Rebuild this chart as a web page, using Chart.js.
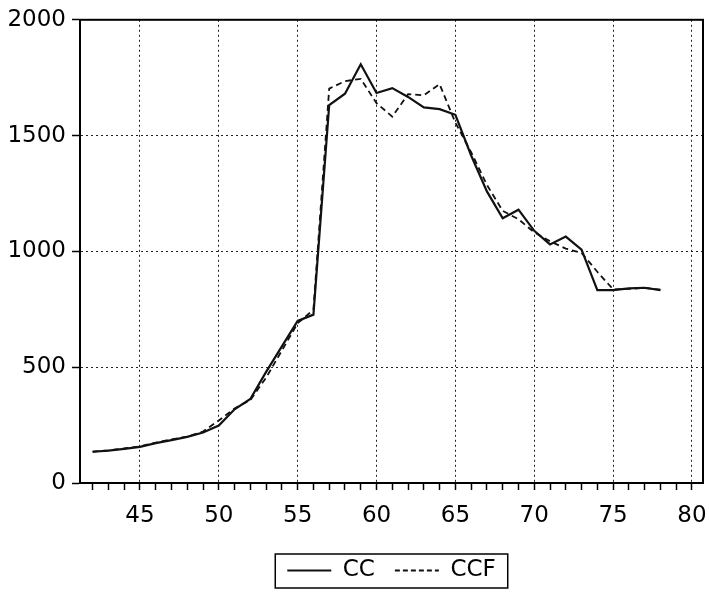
<!DOCTYPE html>
<html>
<head>
<meta charset="utf-8">
<script src="https://cdn.jsdelivr.net/npm/chart.js@4"></script>
<style>
  html, body { margin: 0; padding: 0; background: #fff; }
  #wrap { width: 709px; height: 597px; }
</style>
</head>
<body>
<div id="wrap"><canvas id="graph01"></canvas></div>
<script>
const years = [
  42, 43, 44, 45, 46, 47, 48, 49, 50, 51, 52, 53, 54, 55, 56, 57, 58, 59, 60,
  61, 62, 63, 64, 65, 66, 67, 68, 69, 70, 71, 72, 73, 74, 75, 76, 77, 78,
];

const ccValues = [
  135, 140, 147, 156, 172, 185, 199, 218, 248, 318, 363, 480, 590, 700, 727,
  1632, 1681, 1808, 1684, 1705, 1667, 1622, 1614, 1590, 1414, 1259, 1143,
  1180, 1089, 1030, 1064, 1008, 833, 833, 840, 843, 833,
];

const ccfValues = [
  135, 141, 149, 158, 174, 188, 200, 222, 270, 322, 358, 455, 572, 690, 748,
  1703, 1735, 1745, 1640, 1582, 1679, 1674, 1722, 1556, 1428, 1287, 1175,
  1139, 1082, 1044, 1012, 994, 912, 836, 838, 842, 835,
];

// minor tick marks every year, labels every 5
const xMinorTicks = [
  42, 43, 44, 45, 46, 47, 48, 49, 50, 51, 52, 53, 54, 55, 56, 57, 58, 59, 60,
  61, 62, 63, 64, 65, 66, 67, 68, 69, 70, 71, 72, 73, 74, 75, 76, 77, 78, 79, 80,
];
const xLabels = [45, 50, 55, 60, 65, 70, 75, 80];

const FONT = { family: "'DejaVu Sans', sans-serif", size: 23 };

const frame = {
  id: "frame",
  afterLayout(chart) {
    // center the legend under the plot area
    const l = chart.legend;
    l.left = chart.chartArea.left;
    l.right = chart.chartArea.right;
    l.width = l.right - l.left;
  },
  afterDraw(chart) {
    const { ctx, chartArea: a } = chart;
    ctx.save();
    ctx.strokeStyle = "#000";
    ctx.lineWidth = 2;
    ctx.strokeRect(a.left, a.top, a.right - a.left, a.bottom - a.top);
    // box round the legend
    const hb = chart.legend.legendHitBoxes;
    if (hb && hb.length) {
      const last = hb[hb.length - 1];
      const x0 = hb[0].left - 12;
      const x1 = last.left + last.width + 12;
      const y0 = hb[0].top - 5;
      const y1 = hb[0].top + hb[0].height + 6;
      ctx.lineWidth = 1.5;
      ctx.strokeRect(x0, y0, x1 - x0, y1 - y0);
    }
    ctx.restore();
  },
};

const myChart01 = new Chart(document.getElementById("graph01"), {
  type: "line",
  data: {
    datasets: [
      {
        label: "CC",
        data: years.map((x, i) => ({ x: x, y: ccValues[i] })),
        borderColor: "#111",
        backgroundColor: "#111",
        borderWidth: 2.2,
        pointRadius: 0,
        pointStyle: "line",
        tension: 0,
      },
      {
        label: "CCF",
        data: years.map((x, i) => ({ x: x, y: ccfValues[i] })),
        borderColor: "#111",
        backgroundColor: "#111",
        borderWidth: 1.8,
        borderDash: [6, 4],
        pointRadius: 0,
        pointStyle: "line",
        tension: 0,
      },
    ],
  },
  options: {
    responsive: true,
    maintainAspectRatio: false,
    animation: false,
    layout: { padding: { left: 0, top: 18, right: 6, bottom: 5 } },
    plugins: {
      tooltip: { enabled: false },
      legend: {
        position: "bottom",
        labels: {
          color: "#000",
          font: FONT,
          usePointStyle: true,
          pointStyleWidth: 44,
          boxHeight: 10,
          padding: 20,
          generateLabels: (chart) => {
            const items = Chart.defaults.plugins.legend.labels.generateLabels(chart);
            items.forEach((it) => {
              const ds = chart.data.datasets[it.datasetIndex];
              it.lineDash = ds.borderDash ? [5, 3] : [];
              it.lineWidth = ds.borderWidth;
            });
            return items;
          },
        },
      },
    },
    scales: {
      x: {
        type: "linear",
        min: 41.2,
        max: 80.7,
        afterBuildTicks: (axis) => {
          axis.ticks = xMinorTicks.map((v) => ({ value: v }));
        },
        afterFit: (axis) => {
          axis.height = 56;
          axis.paddingLeft = 0;
          axis.paddingRight = 0;
        },
        ticks: {
          autoSkip: false,
          maxRotation: 0,
          color: "#000",
          font: FONT,
          padding: 12,
          callback: (v) => (xLabels.includes(v) ? String(v) : ""),
        },
        grid: {
          color: (c) =>
            c.tick && xLabels.includes(c.tick.value) ? "#222" : "rgba(0,0,0,0)",
          lineWidth: 1,
          tickColor: "#000",
          tickLength: 7,
          tickWidth: 1.5,
        },
        border: { color: "#000", width: 2, dash: [2, 3] },
      },
      y: {
        min: 0,
        max: 2000,
        afterFit: (axis) => {
          axis.width = 80;
        },
        ticks: {
          stepSize: 500,
          color: "#000",
          font: FONT,
          padding: 6,
          callback: (v) => String(v),
        },
        grid: {
          color: (c) =>
            c.tick && c.tick.value > 0 && c.tick.value < 2000
              ? "#222"
              : "rgba(0,0,0,0)",
          lineWidth: 1,
          tickColor: "#000",
          tickLength: 8,
          tickWidth: 1.5,
        },
        border: { color: "#000", width: 2, dash: [2, 3] },
      },
    },
  },
  plugins: [frame],
});
</script>
</body>
</html>
